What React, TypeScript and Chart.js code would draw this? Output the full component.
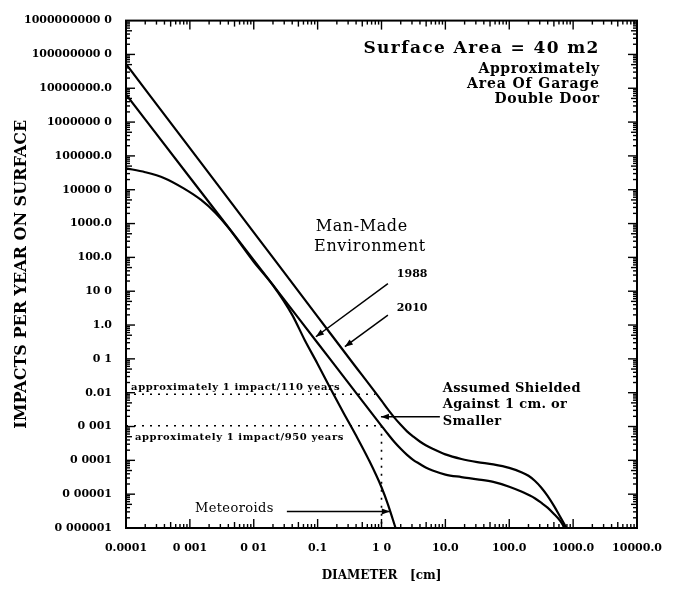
import React, { useEffect, useRef } from 'react';
import { Chart, registerables } from 'chart.js';

Chart.register(...registerables);

// ---- Axis ticks ----
const xTickValues = [0.0001, 0.001, 0.01, 0.1, 1, 10, 100, 1000, 10000];
const xTickLabels = ['0.0001', '0 001', '0 01', '0.1', '1 0', '10.0', '100.0', '1000.0', '10000.0'];
const yTickValues = [1e-6, 1e-5, 1e-4, 1e-3, 1e-2, 1e-1, 1, 10, 100, 1e3, 1e4, 1e5, 1e6, 1e7, 1e8, 1e9];
const yTickLabels = [
  '0 000001', '0 00001', '0 0001', '0 001', '0.01', '0 1', '1.0', '10 0', '100.0',
  '1000.0', '10000 0', '100000.0', '1000000 0', '10000000.0', '100000000 0', '1000000000 0',
];

// ---- Series: Man-Made Environment 2010 ----
const diam2010 = [0.0001, 0.001, 0.01, 0.1, 0.316, 1, 1.26, 1.58, 2.0, 2.51, 3.16, 3.98, 5.01, 6.31, 10, 17.8, 31.6, 56.2, 100, 158, 200, 251, 316, 398, 501, 631, 790];
const impacts2010 = [5.2e7, 1.7e5, 550, 1.78, 0.101, 0.0058, 0.0032, 0.00186, 0.00112, 7.2e-4, 5.0e-4, 3.6e-4, 2.75e-4, 2.2e-4, 1.5e-4, 1.1e-4, 8.9e-5, 7.6e-5, 6.0e-5, 4.4e-5, 3.5e-5, 2.5e-5, 1.58e-5, 8.9e-6, 4.5e-6, 2.1e-6, 1.0e-6];

// ---- Series: Man-Made Environment 1988 ----
const diam1988 = [0.0001, 0.001, 0.01, 0.1, 0.316, 1, 1.26, 1.58, 2.0, 2.51, 3.16, 3.98, 5.01, 6.31, 10, 17.8, 31.6, 56.2, 100, 158, 251, 316, 398, 501, 631, 740];
const impacts1988 = [6.6e6, 2.3e4, 83, 0.295, 0.0176, 0.00105, 6.0e-4, 3.55e-4, 2.2e-4, 1.45e-4, 1.02e-4, 7.8e-5, 6.0e-5, 5.0e-5, 3.8e-5, 3.2e-5, 2.75e-5, 2.3e-5, 1.66e-5, 1.17e-5, 7.6e-6, 5.6e-6, 4.0e-6, 2.6e-6, 1.6e-6, 1.0e-6];

// ---- Series: Meteoroids ----
const diamMeteoroids = [0.0001, 0.0002, 0.0004, 0.0008, 0.0015, 0.0025, 0.004, 0.01, 0.02, 0.04, 0.063, 0.1, 0.158, 0.25, 0.4, 0.63, 1.0, 1.26, 1.66];
const impactsMeteoroids = [4.3e4, 3.3e4, 2.2e4, 1.1e4, 5.0e3, 2.1e3, 760, 74, 15, 2.0, 0.355, 0.071, 0.0135, 0.0027, 5.4e-4, 1.05e-4, 1.6e-5, 5.0e-6, 1.0e-6];

// ---- Reference (dotted) lines ----
const dot110Diam = [0.0001, 0.8];
const dot110Impacts = [0.009, 0.009];
const dot950Diam = [0.0001, 1];
const dot950Impacts = [0.00105, 0.00105];
const dotVertDiam = [1, 1];
const dotVertImpacts = [0.00105, 1e-6];

const FONT = '"DejaVu Serif", "Liberation Serif", serif';

const toPoints = (xs: number[], ys: number[]) => xs.map((x, i) => ({ x, y: ys[i] }));

type TextNote = { text: string; x: number; y: number; align: CanvasTextAlign; font: string; spacing: number };
const notes: TextNote[] = [
  { text: 'Surface Area = 40 m2', x: 2620, y: 1.44e8, align: 'right', font: `bold 17px ${FONT}`, spacing: 1.4 },
  { text: 'Approximately', x: 2620, y: 3.5e7, align: 'right', font: `bold 14px ${FONT}`, spacing: 0.6 },
  { text: 'Area Of Garage', x: 2620, y: 1.28e7, align: 'right', font: `bold 14px ${FONT}`, spacing: 0.9 },
  { text: 'Double Door', x: 2620, y: 4.7e6, align: 'right', font: `bold 14px ${FONT}`, spacing: 0.6 },
  { text: 'Man-Made', x: 0.49, y: 820, align: 'center', font: `16px ${FONT}`, spacing: 0.6 },
  { text: 'Environment', x: 0.66, y: 200, align: 'center', font: `16px ${FONT}`, spacing: 0.6 },
  { text: '1988', x: 1.74, y: 31, align: 'left', font: `bold 11px ${FONT}`, spacing: 0 },
  { text: '2010', x: 1.74, y: 3.1, align: 'left', font: `bold 11px ${FONT}`, spacing: 0 },
  { text: 'Assumed Shielded', x: 9.1, y: 0.0128, align: 'left', font: `bold 13px ${FONT}`, spacing: 0.3 },
  { text: 'Against 1 cm. or', x: 9.1, y: 0.0044, align: 'left', font: `bold 13px ${FONT}`, spacing: 0.3 },
  { text: 'Smaller', x: 9.1, y: 0.0014, align: 'left', font: `bold 13px ${FONT}`, spacing: 0.3 },
  { text: 'Meteoroids', x: 0.0012, y: 3.8e-6, align: 'left', font: `13px ${FONT}`, spacing: 0.4 },
  { text: 'approximately 1 impact/110 years', x: 1.2e-4, y: 0.0146, align: 'left', font: `bold 10px ${FONT}`, spacing: 0.6 },
  { text: 'approximately 1 impact/950 years', x: 1.38e-4, y: 4.8e-4, align: 'left', font: `bold 10px ${FONT}`, spacing: 0.6 },
];

type ArrowNote = { x1: number; y1: number; x2: number; y2: number };
const arrows: ArrowNote[] = [
  { x1: 1.26, y1: 16.7, x2: 0.094, y2: 0.45 },
  { x1: 1.26, y1: 1.96, x2: 0.267, y2: 0.229 },
  { x1: 8.2, y1: 0.00195, x2: 0.98, y2: 0.00195 },
  { x1: 0.033, y1: 3.1e-6, x2: 1.35, y2: 3.1e-6 },
];

const frameTicksPlugin = {
  id: 'frameTicks',
  afterDatasetsDraw(chart: any) {
    const { ctx, chartArea: a, scales } = chart;
    const xs = scales.x;
    const ys = scales.y;
    ctx.save();
    ctx.strokeStyle = '#000';
    ctx.lineWidth = 2;
    ctx.strokeRect(a.left, a.top, a.right - a.left, a.bottom - a.top);
    ctx.lineWidth = 1.4;
    const seg = (x1: number, y1: number, x2: number, y2: number) => {
      ctx.beginPath();
      ctx.moveTo(x1, y1);
      ctx.lineTo(x2, y2);
      ctx.stroke();
    };
    for (let e = -4; e < 4; e++) {
      for (let k = 1; k <= 9; k++) {
        const px = xs.getPixelForValue(k * Math.pow(10, e));
        const len = k === 1 ? 9 : k === 5 ? 6 : 4;
        seg(px, a.bottom, px, a.bottom - len);
        seg(px, a.top, px, a.top + len);
      }
    }
    for (let e = -6; e < 9; e++) {
      for (let k = 1; k <= 9; k++) {
        const py = ys.getPixelForValue(k * Math.pow(10, e));
        const len = k === 1 ? 9 : k === 5 ? 6 : 4;
        seg(a.left, py, a.left + len, py);
        seg(a.right, py, a.right - len, py);
      }
    }
    ctx.restore();
  },
};

const notesPlugin = {
  id: 'notes',
  afterDraw(chart: any) {
    const { ctx, scales } = chart;
    const xs = scales.x;
    const ys = scales.y;
    ctx.save();
    ctx.fillStyle = '#000';
    ctx.strokeStyle = '#000';
    ctx.textBaseline = 'middle';
    for (const n of notes) {
      ctx.font = n.font;
      ctx.textAlign = n.align;
      (ctx as any).letterSpacing = `${n.spacing}px`;
      ctx.fillText(n.text, xs.getPixelForValue(n.x), ys.getPixelForValue(n.y));
    }
    (ctx as any).letterSpacing = '0px';
    ctx.lineWidth = 1.5;
    for (const ar of arrows) {
      const x1 = xs.getPixelForValue(ar.x1);
      const y1 = ys.getPixelForValue(ar.y1);
      const x2 = xs.getPixelForValue(ar.x2);
      const y2 = ys.getPixelForValue(ar.y2);
      ctx.beginPath();
      ctx.moveTo(x1, y1);
      ctx.lineTo(x2, y2);
      ctx.stroke();
      const ang = Math.atan2(y2 - y1, x2 - x1);
      const hl = 8;
      const hw = 3;
      ctx.beginPath();
      ctx.moveTo(x2, y2);
      ctx.lineTo(x2 - hl * Math.cos(ang) + hw * Math.sin(ang), y2 - hl * Math.sin(ang) - hw * Math.cos(ang));
      ctx.lineTo(x2 - hl * Math.cos(ang) - hw * Math.sin(ang), y2 - hl * Math.sin(ang) + hw * Math.cos(ang));
      ctx.closePath();
      ctx.fill();
    }
    ctx.restore();
  },
};

export default function App() {
  const canvasRef = useRef<HTMLCanvasElement | null>(null);

  useEffect(() => {
    const canvas = canvasRef.current;
    if (!canvas) return;
    const curve = (label: string, xs: number[], ys: number[]) => ({
      label,
      data: toPoints(xs, ys),
      borderColor: '#000',
      borderWidth: 2.2,
      pointRadius: 0,
      fill: false,
      cubicInterpolationMode: 'monotone' as const,
    });
    const dotted = (label: string, xs: number[], ys: number[]) => ({
      label,
      data: toPoints(xs, ys),
      borderColor: '#000',
      borderWidth: 1.6,
      borderDash: [2, 6],
      pointRadius: 0,
      fill: false,
      tension: 0,
    });
    const chart = new Chart(canvas, {
      type: 'line',
      data: {
        datasets: [
          curve('2010', diam2010, impacts2010),
          curve('1988', diam1988, impacts1988),
          curve('Meteoroids', diamMeteoroids, impactsMeteoroids),
          dotted('1 impact/110 years', dot110Diam, dot110Impacts),
          dotted('1 impact/950 years', dot950Diam, dot950Impacts),
          dotted('1 cm shield', dotVertDiam, dotVertImpacts),
        ],
      },
      options: {
        animation: false,
        responsive: false,
        devicePixelRatio: 1,
        layout: { padding: { top: 13, right: 40, left: 0, bottom: 0 } },
        plugins: { legend: { display: false }, tooltip: { enabled: false } },
        elements: { point: { radius: 0 } },
        scales: {
          x: {
            type: 'logarithmic',
            position: 'bottom',
            min: 1e-4,
            max: 1e4,
            grid: { display: false, drawTicks: false },
            border: { display: false },
            afterBuildTicks: (s: any) => {
              s.ticks = xTickValues.map((v) => ({ value: v }));
            },
            afterFit: (s: any) => {
              s.height = 62;
            },
            ticks: {
              autoSkip: false,
              maxRotation: 0,
              minRotation: 0,
              padding: 14,
              color: '#000',
              font: { family: FONT, size: 11, weight: 'bold' },
              callback: (_v: any, i: number) => xTickLabels[i],
            },
            title: {
              display: true,
              text: 'DIAMETER   [cm]',
              color: '#000',
              font: { family: FONT, size: 12, weight: 'bold' },
              padding: { top: 0, bottom: 7 },
            },
          },
          y: {
            type: 'logarithmic',
            position: 'left',
            min: 1e-6,
            max: 1e9,
            grid: { display: false, drawTicks: false },
            border: { display: false },
            afterBuildTicks: (s: any) => {
              s.ticks = yTickValues.map((v) => ({ value: v }));
            },
            afterFit: (s: any) => {
              s.width = 126;
            },
            ticks: {
              autoSkip: false,
              padding: 14,
              color: '#000',
              font: { family: FONT, size: 11, weight: 'bold' },
              callback: (_v: any, i: number) => yTickLabels[i],
            },
            title: {
              display: true,
              text: 'IMPACTS PER YEAR ON SURFACE',
              color: '#000',
              font: { family: FONT, size: 16, weight: 'bold' },
              padding: { top: 12, bottom: 0 },
            },
          },
        },
      } as any,
      plugins: [frameTicksPlugin, notesPlugin],
    });
    return () => chart.destroy();
  }, []);

  return (
    <div style={{ position: 'absolute', left: 0, top: 0, width: 677, height: 590, background: '#fff' }}>
      <canvas ref={canvasRef} width={677} height={590} style={{ width: 677, height: 590, display: 'block' }} />
    </div>
  );
}
